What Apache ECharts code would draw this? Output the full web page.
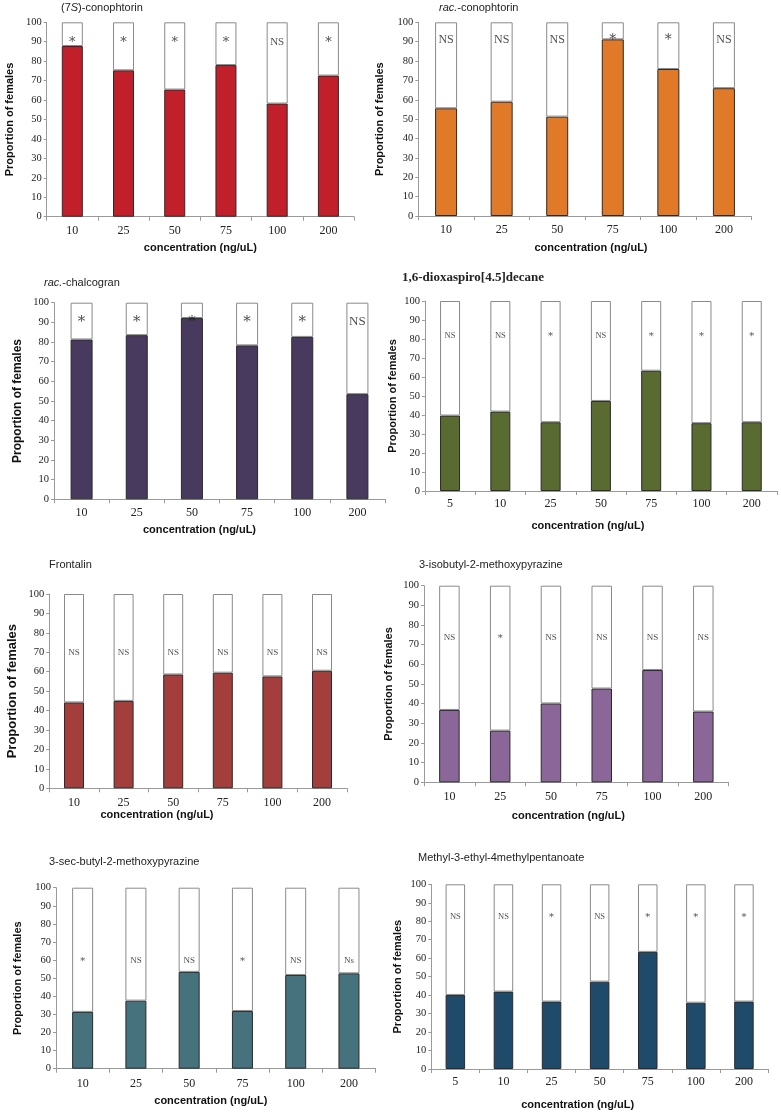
<!DOCTYPE html>
<html><head><meta charset="utf-8">
<script src="https://cdn.jsdelivr.net/npm/echarts@6/dist/echarts.min.js"></script>
<style>html,body{margin:0;padding:0;background:#fff}#c{width:781px;height:1114px}</style>
</head><body><div id="c"></div>
<script>
// ---- data ----
const conc6 = ['10', '25', '50', '75', '100', '200'];
const conc7 = ['5', '10', '25', '50', '75', '100', '200'];
const yTicks = [0, 10, 20, 30, 40, 50, 60, 70, 80, 90, 100];

const conophtorin7S = [87.8, 75.3, 65.4, 78, 58.2, 72.6];
const conophtorin7SSig = ['*', '*', '*', '*', 'NS', '*'];

const racConophtorin = [55.6, 59, 51.3, 91.2, 75.9, 66];
const racConophtorinSig = ['NS', 'NS', 'NS', '*', '*', 'NS'];

const racChalcogran = [81.3, 83.5, 92.2, 78.3, 82.6, 53.5];
const racChalcogranSig = ['*', '*', '*', '*', '*', 'NS'];

const dioxaspiro = [39.7, 41.8, 36.2, 47.4, 63.3, 35.7, 36.2];
const dioxaspiroSig = ['NS', 'NS', '*', 'NS', '*', '*', '*'];

const frontalin = [44.2, 45, 58.6, 59.5, 57.6, 60.5];
const frontalinSig = ['NS', 'NS', 'NS', 'NS', 'NS', 'NS'];

const isobutylMP = [36.8, 26.3, 40.1, 47.7, 57.1, 36];
const isobutylMPSig = ['NS', '*', 'NS', 'NS', 'NS', 'NS'];

const secButylMP = [31.4, 37.6, 53.5, 31.9, 51.8, 52.7];
const secButylMPSig = ['*', 'NS', 'NS', '*', 'NS', 'Ns'];

const methylPentanoate = [40.1, 41.9, 36.5, 47.3, 63.4, 35.9, 36.5];
const methylPentanoateSig = ['NS', 'NS', '*', 'NS', '*', '*', '*'];

// ---- panel layout / style ----
const SANS = 'Liberation Sans, Arial, sans-serif';
const SERIF = 'Liberation Serif, Times New Roman, serif';
const panels = [
  {title: '(7{i|S})-conophtorin', cats: conc6, vals: conophtorin7S, sig: conophtorin7SSig, color: '#C1202A',
   grid: [46.7, 22.3, 307.3, 194.4], barW: 21, sigY: 90, sigSize: 11, tPos: [61, 2], yGap: 31, ySize: 11, xGap: 26, xPad: [0, 0], xMargin: 8},
  {title: '{i|rac.}-conophtorin', cats: conc6, vals: racConophtorin, sig: racConophtorinSig, color: '#E07A28',
   grid: [418.3, 22.3, 333.4, 193.7], barW: 22, sigY: 91, sigSize: 12, tPos: [439, 2], yGap: 33, ySize: 11, xGap: 26.5, xPad: [12, 0], xMargin: 8},
  {title: '{i|rac.}-chalcogran', cats: conc6, vals: racChalcogran, sig: racChalcogranSig, color: '#483A5E',
   grid: [54, 302.7, 331, 196.6], barW: 22, sigY: 90.5, sigSize: 13, tPos: [44, 277], yGap: 30, ySize: 12, xGap: 25, xPad: [0, 40], xMargin: 8},
  {title: '1,6-dioxaspiro[4.5]decane', serifTitle: true, cats: conc7, vals: dioxaspiro, sig: dioxaspiroSig, color: '#5A6B32',
   grid: [424.9, 301, 352, 190], barW: 20, sigY: 81.5, sigSize: 8.5, tPos: [402, 271], yGap: 26, ySize: 11, xGap: 29.5, xPad: [0, 26], xMargin: 7},
  {title: 'Frontalin', cats: conc6, vals: frontalin, sig: frontalinSig, color: '#A33E3C',
   grid: [49.2, 594, 297.6, 194.3], barW: 20, sigY: 70, sigSize: 9, tPos: [49, 559], yGap: 30.5, ySize: 13, xGap: 21, xPad: [0, 82], xMargin: 8.5},
  {title: '3-isobutyl-2-methoxypyrazine', cats: conc6, vals: isobutylMP, sig: isobutylMPSig, color: '#8B6699',
   grid: [424, 585.7, 304.7, 196.6], barW: 20.5, sigY: 73.5, sigSize: 9, tPos: [419, 559], yGap: 30, ySize: 11, xGap: 28, xPad: [0, 16], xMargin: 8.5},
  {title: '3-sec-butyl-2-methoxypyrazine', cats: conc6, vals: secButylMP, sig: secButylMPSig, color: '#46727D',
   grid: [56, 887.7, 319.6, 181], barW: 21, sigY: 59.5, sigSize: 9, tPos: [49, 856], yGap: 32.5, ySize: 11, xGap: 27, xPad: [0, 10], xMargin: 9},
  {title: 'Methyl-3-ethyl-4methylpentanoate', cats: conc7, vals: methylPentanoate, sig: methylPentanoateSig, color: '#1F4A6A',
   grid: [431.3, 884.3, 336.7, 184.7], barW: 19.5, sigY: 82.5, sigSize: 8.5, tPos: [418, 852], yGap: 28, ySize: 11, xGap: 30.5, xPad: [0, 44], xMargin: 7}
];

const option = {backgroundColor: '#fff', animation: false, title: [], grid: [], xAxis: [], yAxis: [], series: []};
const AXIS_COLOR = '#9a9a9a';
panels.forEach((p, i) => {
  option.title.push({
    text: p.title, left: p.tPos[0], top: p.tPos[1], padding: 0,
    textStyle: {
      fontFamily: p.serifTitle ? SERIF : SANS, fontSize: p.serifTitle ? 13 : 11,
      fontWeight: p.serifTitle ? 600 : 'normal', color: '#222',
      rich: {i: {fontStyle: 'italic', fontFamily: SANS, fontSize: 11, color: '#222'}}
    }
  });
  option.grid.push({left: p.grid[0], top: p.grid[1], width: p.grid[2], height: p.grid[3], containLabel: false, outerBoundsMode: 'none'});
  option.xAxis.push({
    type: 'category', gridIndex: i, data: p.cats, boundaryGap: true,
    name: 'concentration (ng/uL)', nameLocation: 'middle', nameGap: p.xGap,
    nameTextStyle: {fontFamily: SANS, fontSize: 11, fontWeight: 'bold', color: '#111',
                    padding: [0, p.xPad[1], 0, p.xPad[0]]},
    axisLine: {lineStyle: {color: AXIS_COLOR, width: 1}},
    axisTick: {show: true, length: 4, lineStyle: {color: AXIS_COLOR}},
    axisLabel: {fontFamily: SERIF, fontSize: 12, color: '#222', margin: p.xMargin},
    splitLine: {show: false}
  });
  option.yAxis.push({
    type: 'value', gridIndex: i, min: yTicks[0], max: yTicks[yTicks.length - 1], interval: yTicks[1] - yTicks[0],
    name: 'Proportion of females', nameLocation: 'middle', nameGap: p.yGap,
    nameTextStyle: {fontFamily: SANS, fontSize: p.ySize, fontWeight: 'bold', color: '#111'},
    axisLine: {show: true, lineStyle: {color: AXIS_COLOR, width: 1}},
    axisTick: {show: true, length: 3, lineStyle: {color: AXIS_COLOR}},
    axisLabel: {fontFamily: SERIF, fontSize: 10.5, color: '#222', margin: 5},
    splitLine: {show: false}
  });
  option.series.push({
    type: 'bar', xAxisIndex: i, yAxisIndex: i, stack: 'p' + i, barWidth: p.barW,
    data: p.vals,
    itemStyle: {color: p.color, borderColor: '#2a2a2a', borderWidth: 1}
  });
  option.series.push({
    type: 'bar', xAxisIndex: i, yAxisIndex: i, stack: 'p' + i, barWidth: p.barW,
    data: p.vals.map(v => 100 - v),
    itemStyle: {color: '#fff', borderColor: '#8a8a8a', borderWidth: 1}
  });
  option.series.push({
    type: 'scatter', xAxisIndex: i, yAxisIndex: i, silent: true, z: 5,
    symbolSize: 1, itemStyle: {color: 'rgba(0,0,0,0)'},
    data: p.cats.map((c, j) => [j, p.sigY]),
    label: {show: true, position: 'inside', fontFamily: SERIF, fontSize: p.sigSize, color: '#222',
            formatter: (q) => p.sig[q.dataIndex] === '*' ? '{s|*}' : p.sig[q.dataIndex],
            rich: {s: {fontFamily: 'DejaVu Serif, serif', fontSize: Math.round(p.sigSize * 1.15), color: '#222', padding: [Math.round(p.sigSize * 0.15), 0, 0, 0]}}}
  });
});
const chart = echarts.init(document.getElementById('c'), null, {renderer: 'canvas'});
chart.setOption(option);
</script>
</body></html>
